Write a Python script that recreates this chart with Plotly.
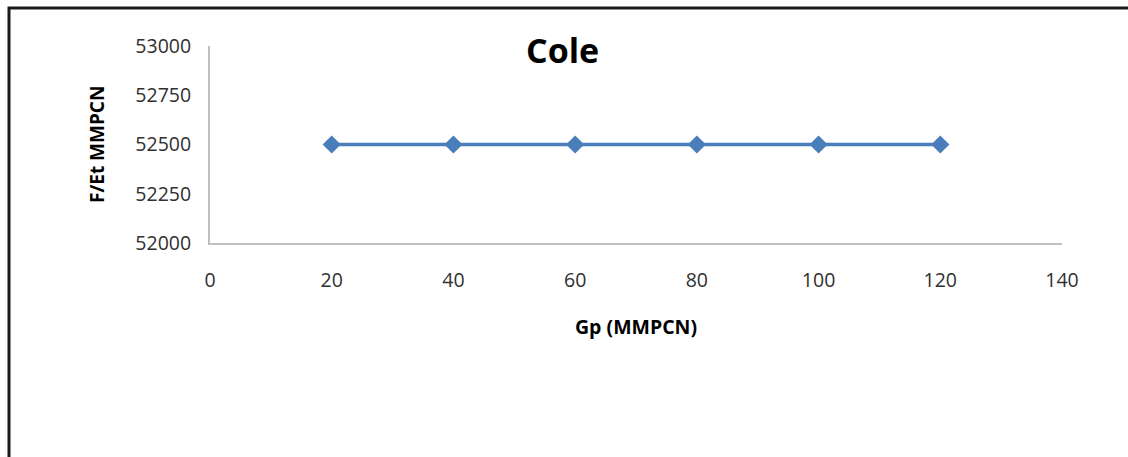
import plotly.graph_objects as go

# Cumulative gas production Gp (MMPCN) and F/Et values for the Cole plot
gp = [20, 40, 60, 80, 100, 120]
f_et = [52500, 52500, 52500, 52500, 52500, 52500]

x_ticks = [0, 20, 40, 60, 80, 100, 120, 140]
y_ticks = [52000, 52250, 52500, 52750, 53000]
y_tick_text = ["52000", "52250", "52500", "52750", "53000"]

fig = go.Figure()
fig.add_trace(go.Scatter(
    x=gp, y=f_et, mode="lines+markers",
    line=dict(color="#4a7ebb", width=3.5),
    marker=dict(symbol="diamond", size=14, color="#4a7ebb"),
    showlegend=False,
))

font_family = "Open Sans, Noto Sans, sans-serif"
tick_font = dict(family=font_family, size=19.5, color="#303030")

fig.update_layout(
    width=1128, height=457,
    margin=dict(l=210, r=66, t=46, b=214),
    paper_bgcolor="white", plot_bgcolor="white",
    xaxis=dict(
        range=[0, 140], tickvals=x_ticks, showgrid=False, zeroline=False,
        showline=True, linecolor="#bfbfbf", linewidth=2,
        ticks="", tickfont=tick_font, ticklabelstandoff=19,
    ),
    yaxis=dict(
        range=[52000, 53000], tickvals=y_ticks, ticktext=y_tick_text,
        showgrid=False, zeroline=False,
        showline=True, linecolor="#bfbfbf", linewidth=2,
        ticks="", tickfont=tick_font, ticklabelstandoff=13,
    ),
    shapes=[dict(
        type="rect", xref="paper", yref="paper",
        x0=-201 / 852, x1=1.2, y0=-2.0, y1=1 + 38 / 197,
        line=dict(color="#1a1a1a", width=3), fillcolor="rgba(0,0,0,0)",
        layer="below",
    )],
    annotations=[
        dict(text="<b>Cole</b>", xref="paper", yref="paper",
             x=(562 - 210) / 852, y=1 - (50 - 46) / 197,
             xanchor="center", yanchor="middle", showarrow=False,
             font=dict(family=font_family, size=34, color="#000000")),
        dict(text="<b>F/Et MMPCN</b>", xref="paper", yref="paper",
             x=(97 - 210) / 852, y=(243 - 145) / 197, textangle=-90,
             xanchor="center", yanchor="middle", showarrow=False,
             font=dict(family=font_family, size=19, color="#000000")),
        dict(text="<b>Gp (MMPCN)</b>", xref="paper", yref="paper",
             x=(636 - 210) / 852, y=-(326 - 243) / 197,
             xanchor="center", yanchor="middle", showarrow=False,
             font=dict(family=font_family, size=19.5, color="#000000")),
    ],
)

fig.write_html("out.html")
